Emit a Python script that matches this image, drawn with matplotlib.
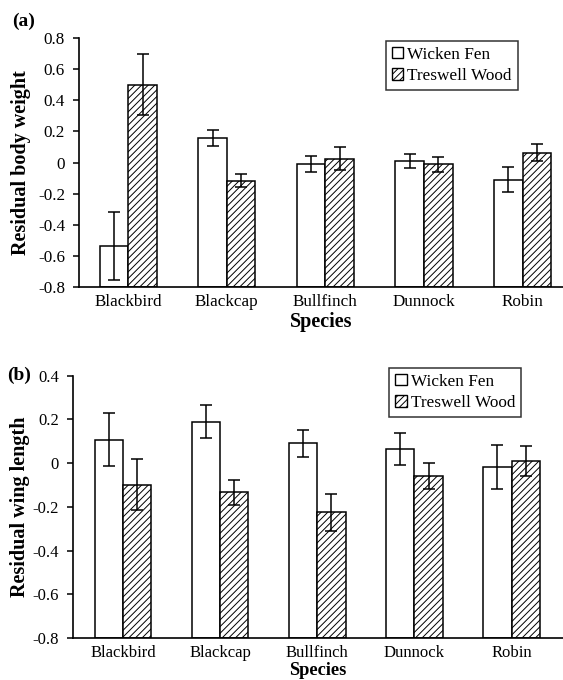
import numpy as np
import matplotlib
matplotlib.use("Agg")
import matplotlib.pyplot as plt

plt.rcParams['font.family'] = ['Liberation Serif', 'DejaVu Serif']
plt.rcParams['axes.unicode_minus'] = False
plt.rcParams['hatch.linewidth'] = 0.7

species = ["Blackbird", "Blackcap", "Bullfinch", "Dunnock", "Robin"]
sites = ["Wicken Fen", "Treswell Wood"]

# (a) residual body weight
body_wicken = [-0.535, 0.16, -0.01, 0.01, -0.11]
body_wicken_err = [0.22, 0.05, 0.05, 0.047, 0.08]
body_treswell = [0.50, -0.115, 0.026, -0.01, 0.064]
body_treswell_err = [0.195, 0.04, 0.075, 0.048, 0.056]

# (b) residual wing length
wing_wicken = [0.108, 0.19, 0.09, 0.064, -0.017]
wing_wicken_err = [0.12, 0.077, 0.06, 0.072, 0.10]
wing_treswell = [-0.099, -0.133, -0.224, -0.058, 0.011]
wing_treswell_err = [0.116, 0.057, 0.085, 0.06, 0.068]

W, H = 563, 680
fig = plt.figure(figsize=(W / 100, H / 100), dpi=100)

def px(x0, y0, x1, y1):
    # pixel box -> figure fraction [l, b, w, h]
    return [x0 / W, 1 - y1 / H, (x1 - x0) / W, (y1 - y0) / H]

def panel(ax, wick, wick_err, tres, tres_err, ylab, yticks, xlim, ylim,
          tsize, lsize):
    x = np.arange(len(species))
    w = 0.29
    base = ylim[0]
    ekw = dict(elinewidth=1.1, capthick=1.1, ecolor="black")
    # bars start at the bottom of the axis, as in the original
    b1 = ax.bar(x - w / 2, np.array(wick) - base, w, bottom=base,
                color="white", edgecolor="black", linewidth=1.1,
                yerr=wick_err, capsize=4, error_kw=ekw, label=sites[0])
    b2 = ax.bar(x + w / 2, np.array(tres) - base, w, bottom=base,
                color="white", edgecolor="black", linewidth=1.1,
                hatch="/////", yerr=tres_err, capsize=4, error_kw=ekw,
                label=sites[1])
    ax.set_xlim(*xlim)
    ax.set_ylim(*ylim)
    ax.set_yticks(yticks)
    ax.set_yticklabels(["0" if abs(t) < 1e-9 else "%.1f" % t for t in yticks])
    ax.set_xticks(x)
    ax.set_xticklabels(species)
    ax.tick_params(axis="x", length=0, pad=5, labelsize=tsize)
    ax.tick_params(axis="y", direction="out", length=4, width=1.1, pad=6,
                   labelsize=tsize)
    for s in ["top", "right"]:
        ax.spines[s].set_visible(False)
    for s in ["left", "bottom"]:
        ax.spines[s].set_linewidth(1.2)
    ax.set_xlabel("Species", fontsize=lsize, fontweight="bold", labelpad=1)
    ax.set_ylabel(ylab, fontsize=14.5, fontweight="bold")
    return b1, b2

ax1 = fig.add_axes(px(79, 38, 563, 287.3))
panel(ax1, body_wicken, body_wicken_err, body_treswell, body_treswell_err,
      "Residual body weight", np.arange(-0.8, 0.81, 0.2),
      (-0.5, 4.41), (-0.8, 0.8), 12.3, 14.5)
ax1.yaxis.set_label_coords(-(79 - 31) / 484, 0.5)

ax2 = fig.add_axes(px(72.7, 375.7, 563, 638))
panel(ax2, wing_wicken, wing_wicken_err, wing_treswell, wing_treswell_err,
      "Residual wing length", np.arange(-0.8, 0.41, 0.2),
      (-0.52, 4.53), (-0.8, 0.4), 12, 13.2)
ax2.yaxis.set_label_coords(-(72.7 - 30) / 490.3, 0.5)

for ax, (lx, ly) in [(ax1, (385.7, 40.7)), (ax2, (389.3, 367.7))]:
    leg = ax.legend(loc="upper left", bbox_to_anchor=(lx / W, 1 - ly / H),
                    bbox_transform=fig.transFigure, borderaxespad=0,
                    fontsize=12.4, handlelength=0.65, handleheight=0.65,
                    handletextpad=0.25, labelspacing=0.3, borderpad=0.35,
                    fancybox=False, frameon=True)
    leg.get_frame().set_edgecolor("black")
    leg.get_frame().set_linewidth(1.1)
    for p in leg.get_patches():
        p.set_linewidth(1.0)

fig.text(12 / W, 1 - 21.5 / H, "(a)", fontsize=14, fontweight="bold",
         va="center", ha="left")
fig.text(7 / W, 1 - 375.5 / H, "(b)", fontsize=14, fontweight="bold",
         va="center", ha="left")

fig.savefig("out.png", dpi=100)
